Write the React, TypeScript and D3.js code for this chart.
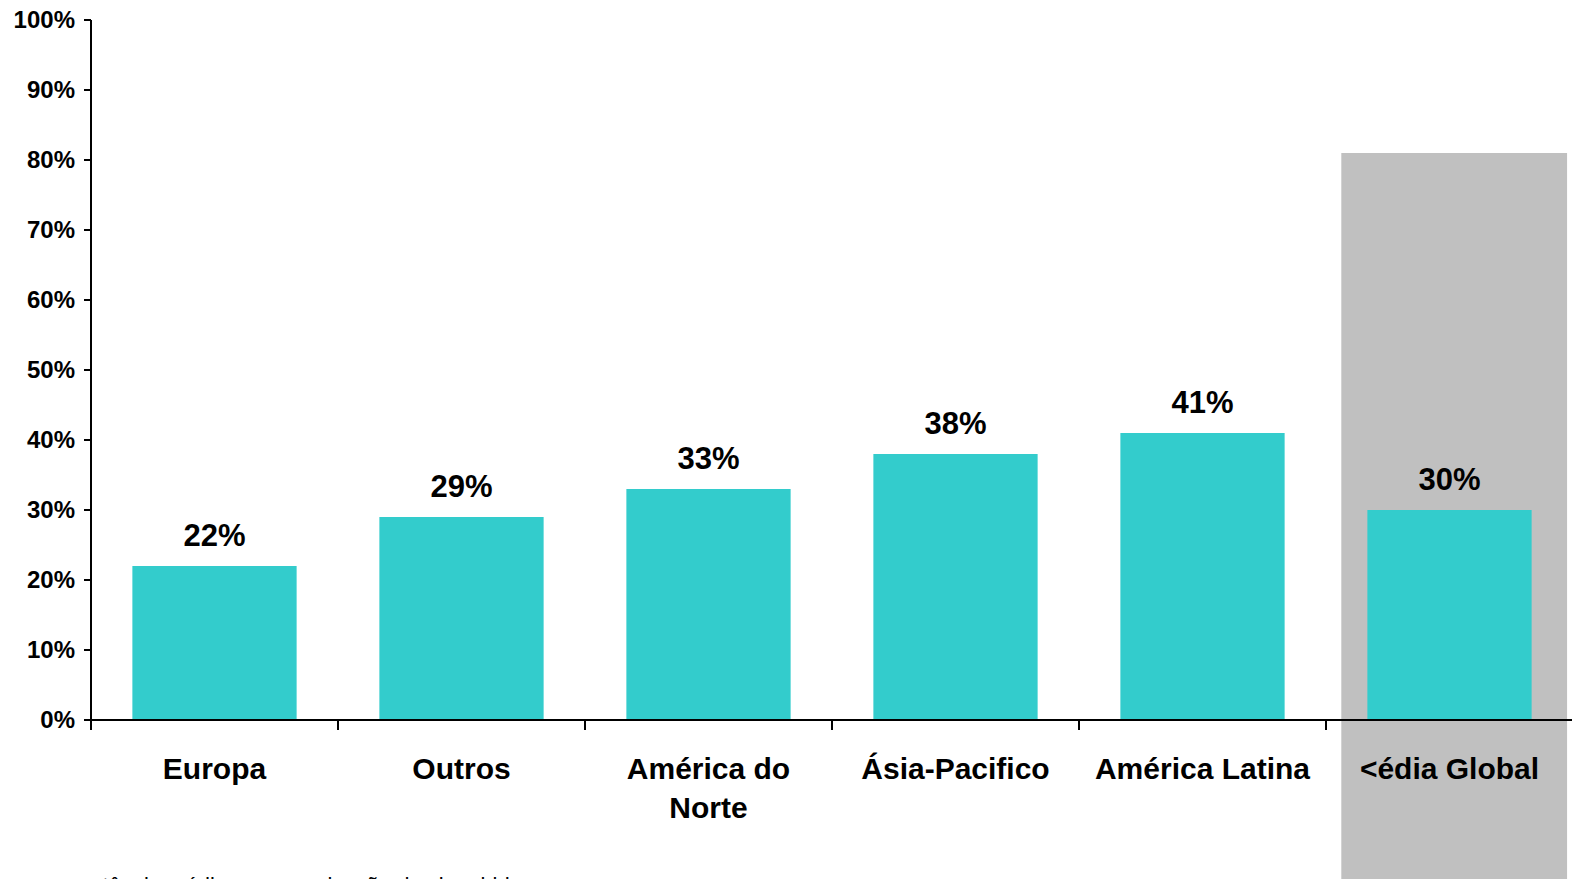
import * as d3 from "d3";

const categories = ["Europa", "Outros", "América do Norte", "Ásia-Pacifico", "América Latina", "<édia Global"];
const categoryLines = [["Europa"], ["Outros"], ["América do", "Norte"], ["Ásia-Pacifico"], ["América Latina"], ["<édia Global"]];
const values = [22, 29, 33, 38, 41, 30];
const yTicks = [0, 10, 20, 30, 40, 50, 60, 70, 80, 90, 100];
const highlightTop = 81;
const footnote = "potência média por organização dos inquiridos";

export default function App() {
  const width = 1572;
  const height = 879;
  const margin = { top: 20, left: 91, bottom: 159 };
  const step = 247;
  const font = "'Liberation Sans', Arial, sans-serif";

  const x = d3
    .scaleBand<string>()
    .domain(categories)
    .range([margin.left, margin.left + step * categories.length])
    .padding(0);

  const y = d3.scaleLinear().domain([0, 100]).range([height - margin.bottom, margin.top]);

  const barW = x.bandwidth() * 0.665;
  const last = categories[categories.length - 1];
  const y0 = y(0);

  return (
    <svg
      width={width}
      height={height}
      style={{ position: "fixed", left: 0, top: 0, background: "#fff" }}
      fontFamily={font}
    >
      {/* highlighted average column */}
      <rect
        x={x(last)! + x.bandwidth() * 0.062}
        y={y(highlightTop)}
        width={x.bandwidth() * 0.914}
        height={height - y(highlightTop)}
        fill="#c0c0c0"
      />

      {categories.map((c, i) => (
        <g key={c}>
          <rect
            x={x(c)! + (x.bandwidth() - barW) / 2}
            y={y(values[i])}
            width={barW}
            height={y0 - y(values[i])}
            fill="#33cccc"
          />
          <text
            x={x(c)! + x.bandwidth() / 2}
            y={y(values[i]) - 20}
            textAnchor="middle"
            fontSize={31}
            fontWeight="bold"
            fill="#000"
          >
            {values[i]}%
          </text>
          <text textAnchor="middle" fontSize={30} fontWeight="bold" fill="#000">
            {categoryLines[i].map((l, j) => (
              <tspan key={j} x={x(c)! + x.bandwidth() / 2} y={y0 + 59 + j * 39}>
                {l}
              </tspan>
            ))}
          </text>
        </g>
      ))}

      {/* y axis */}
      <line x1={margin.left} x2={margin.left} y1={y(100)} y2={y0 + 10} stroke="#000" strokeWidth={2} />
      {yTicks.map((t) => (
        <g key={t}>
          <line x1={margin.left - 7} x2={margin.left} y1={y(t)} y2={y(t)} stroke="#000" strokeWidth={2} />
          <text
            x={margin.left - 16}
            y={y(t)}
            dy="0.35em"
            textAnchor="end"
            fontSize={24}
            fontWeight="bold"
            fill="#000"
          >
            {t}%
          </text>
        </g>
      ))}

      {/* x axis */}
      <line x1={margin.left - 7} x2={width} y1={y0} y2={y0} stroke="#000" strokeWidth={2} />
      {categories.slice(1).map((c) => (
        <line key={c} x1={x(c)!} x2={x(c)!} y1={y0} y2={y0 + 10} stroke="#000" strokeWidth={2} />
      ))}

      <text x={78} y={893} fontSize={22} fill="#000">
        {footnote}
      </text>
    </svg>
  );
}
